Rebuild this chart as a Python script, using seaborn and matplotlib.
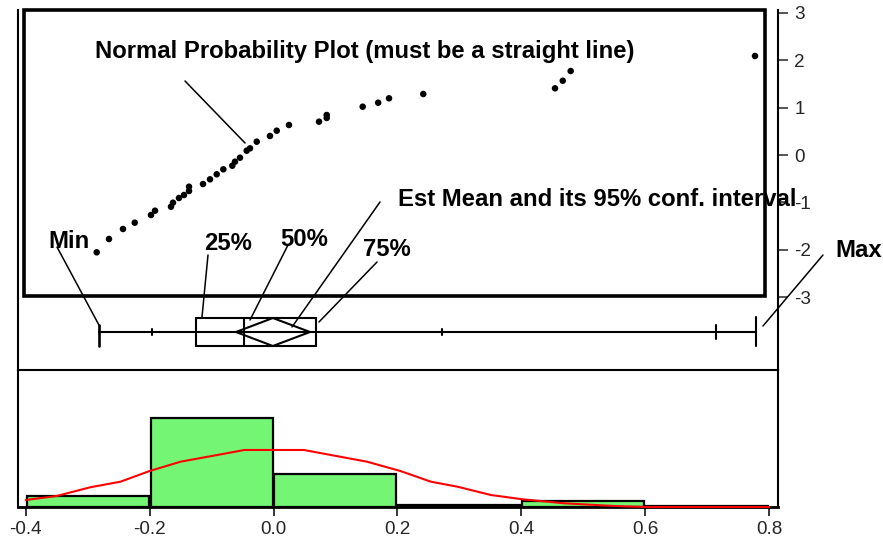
import matplotlib
matplotlib.use("Agg")
import matplotlib.pyplot as plt
import seaborn as sns
from matplotlib.patches import Rectangle, Polygon
from matplotlib.lines import Line2D

# ---------------- data ----------------
npp_values = [-0.2854, -0.2656, -0.2430, -0.2240, -0.1978, -0.1913, -0.1655, -0.1623,
              -0.1526, -0.1445, -0.1364, -0.1364, -0.1138, -0.1025, -0.0917, -0.0810,
              -0.0665, -0.0622, -0.0541, -0.0433, -0.0379, -0.0271, -0.0057, 0.0052,
              0.0250, 0.0735, 0.0859, 0.0859, 0.1440, 0.1690, 0.1865, 0.2418,
              0.4545, 0.4670, 0.4798, 0.7774]
npp_zscores = [-2.053, -1.772, -1.561, -1.428, -1.266, -1.175, -1.091, -1.006,
               -0.907, -0.844, -0.759, -0.669, -0.612, -0.513, -0.407, -0.302,
               -0.226, -0.141, -0.057, 0.091, 0.141, 0.281, 0.401, 0.513,
               0.633, 0.703, 0.781, 0.844, 1.019, 1.103, 1.196, 1.287,
               1.407, 1.567, 1.772, 2.089]

box_min = -0.281
box_q1 = -0.1256
box_median = -0.0471
box_q3 = 0.0686
box_max = 0.779
mean_est = -0.001
mean_ci = [-0.0605, 0.0589]
quantile_marks = [-0.1957, 0.272, 0.714]

hist_edges = [-0.4, -0.2, 0.0, 0.2, 0.4, 0.6, 0.8]
hist_heights = [3.1, 25.0, 9.3, 0.45, 1.8, 0.2]

density_x = [-0.4, -0.35, -0.296, -0.247, -0.2, -0.15, -0.097, -0.047, 0.049, 0.151,
             0.205, 0.254, 0.297, 0.351, 0.402, 0.469, 0.55, 0.604, 0.8]
density_y = [1.96, 3.08, 5.52, 7.09, 10.08, 12.69, 14.37, 15.97, 15.97, 12.69,
             10.08, 7.09, 5.69, 3.36, 2.16, 1.04, 0.28, 0.0, 0.0]

x_ticks = [-0.4, -0.2, 0.0, 0.2, 0.4, 0.6, 0.8]
x_tick_labels = ["-0.4", "-0.2", "0.0", "0.2", "0.4", "0.6", "0.8"]
z_ticks = [3, 2, 1, 0, -1, -2, -3]
z_tick_labels = ["3", "2", "1", "0", "-1", "-2", "-3"]

title_npp = "Normal Probability Plot (must be a straight line)"
label_mean = "Est Mean and its 95% conf. interval"
labels_q = ["Min", "25%", "50%", "75%", "Max"]

# ---------------- style ----------------
sns.set_style("white")
plt.rcParams["font.family"] = ["Liberation Sans", "DejaVu Sans"]

W, H = 883, 538
fig = plt.figure(figsize=(W / 100, H / 100), dpi=100)


def rect(l, t, r, b):
    return [l / W, 1 - b / H, (r - l) / W, (b - t) / H]


X0_PX, XSCALE = 273.5, 619.4
L_PX, R_PX = 18, 778
xlim = ((L_PX - X0_PX) / XSCALE, (R_PX - X0_PX) / XSCALE)
Z0_PX, ZSCALE = 155.0, 47.4
SPINE_LW = 1.5
GREEN = "#74F574"
TICK_FS = 13.6
LABEL_FS = 17.2

# ---------------- top: normal probability plot ----------------
ax_top = fig.add_axes(rect(L_PX, 10, R_PX, 298))
sns.scatterplot(x=npp_values, y=npp_zscores, ax=ax_top, color="black", s=22,
                edgecolor="none", linewidth=0, legend=False)
ax_top.set_xlim(*xlim)
ax_top.set_ylim((Z0_PX - 298) / ZSCALE, (Z0_PX - 10) / ZSCALE)
ax_top.set_xticks([])
ax_top.yaxis.tick_right()
ax_top.set_yticks(z_ticks)
ax_top.set_yticklabels(z_tick_labels)
ax_top.tick_params(axis="y", direction="out", length=7.2, width=1.1, pad=4.5,
                   labelsize=TICK_FS, right=True, left=False)
for side in ["top", "bottom"]:
    ax_top.spines[side].set_visible(False)
for side in ["left", "right"]:
    ax_top.spines[side].set_visible(True)
    ax_top.spines[side].set_color("black")
    ax_top.spines[side].set_linewidth(SPINE_LW)
ax_top.set_facecolor("none")

# thick frame around the probability plot
fig.add_artist(Rectangle((24.3 / W, 1 - 296 / H), (765.3 - 24.3) / W, (296 - 10) / H,
                         transform=fig.transFigure, fill=False, ec="black", lw=2.6))

# ---------------- middle: box plot ----------------
ax_box = fig.add_axes(rect(L_PX, 298, R_PX, 370))
ax_box.set_xlim(*xlim)
ax_box.set_ylim(-38, 34)
BLW = 1.5
ax_box.plot([box_min, box_max], [0, 0], color="black", lw=BLW)
ax_box.add_patch(Rectangle((box_q1, -14), box_q3 - box_q1, 28, fill=False,
                           ec="black", lw=BLW))
ax_box.plot([box_median, box_median], [-14, 14], color="black", lw=BLW)
ax_box.add_patch(Polygon([(mean_ci[0], 0), (mean_est, 14), (mean_ci[1], 0), (mean_est, -14)],
                         closed=True, fill=False, ec="black", lw=BLW))
ax_box.plot([box_min, box_min], [-14, 7], color="black", lw=BLW + 0.4)
ax_box.plot([box_max, box_max], [-14, 15], color="black", lw=BLW)
for q, hh in zip(quantile_marks, [3, 3, 7]):
    ax_box.plot([q, q], [-hh, hh], color="black", lw=BLW)
ax_box.set_xticks([])
ax_box.set_yticks([])
ax_box.spines["top"].set_visible(False)
for side in ["left", "right", "bottom"]:
    ax_box.spines[side].set_visible(True)
    ax_box.spines[side].set_color("black")
    ax_box.spines[side].set_linewidth(SPINE_LW)
ax_box.set_facecolor("none")

# ---------------- bottom: histogram + density ----------------
ax_hist = fig.add_axes(rect(L_PX, 370, R_PX, 507))
bin_centers = [(a + b) / 2 for a, b in zip(hist_edges[:-1], hist_edges[1:])]
sns.histplot(x=bin_centers, weights=hist_heights, bins=hist_edges, ax=ax_hist,
             color=GREEN, edgecolor="black", linewidth=1.6, alpha=1.0, shrink=0.985)
sns.lineplot(x=density_x, y=density_y, ax=ax_hist, color="red", lw=1.5,
             legend=False, clip_on=False, zorder=5)
ax_hist.set_xlim(*xlim)
ax_hist.set_ylim(0, 137 / 3.57)
ax_hist.set_xticks(x_ticks)
ax_hist.set_xticklabels(x_tick_labels)
ax_hist.set_yticks([])
ax_hist.set_xlabel("")
ax_hist.set_ylabel("")
ax_hist.tick_params(axis="x", direction="out", length=6.5, width=1.3, pad=3.5,
                    labelsize=TICK_FS, bottom=True)
ax_hist.spines["top"].set_visible(False)
for side in ["left", "right", "bottom"]:
    ax_hist.spines[side].set_visible(True)
    ax_hist.spines[side].set_color("black")
    ax_hist.spines[side].set_linewidth(SPINE_LW)
ax_hist.spines["bottom"].set_linewidth(2.0)
ax_hist.set_facecolor("none")

# ---------------- annotations ----------------
def fline(x1, y1, x2, y2):
    fig.add_artist(Line2D([x1 / W, x2 / W], [1 - y1 / H, 1 - y2 / H],
                          transform=fig.transFigure, color="black", lw=1.1))


def ftext(x, y, s):
    fig.text(x / W, 1 - y / H, s, ha="left", va="baseline", fontsize=LABEL_FS,
             fontweight="bold", color="black")


ftext(95, 58.3, title_npp)
fline(185, 81, 245, 143)
ftext(398, 206, label_mean)
fline(380, 202, 292, 327)
ftext(48, 248.3, labels_q[0])
fline(57, 247, 100, 327)
ftext(204, 250, labels_q[1])
fline(208, 255, 202, 317)
ftext(280, 246, labels_q[2])
fline(288, 245, 250, 320)
ftext(363, 256.5, labels_q[3])
fline(377, 262, 319, 322)
ftext(835, 257.3, labels_q[4])
fline(823, 255, 763, 326)

fig.savefig("out.png", dpi=100)
